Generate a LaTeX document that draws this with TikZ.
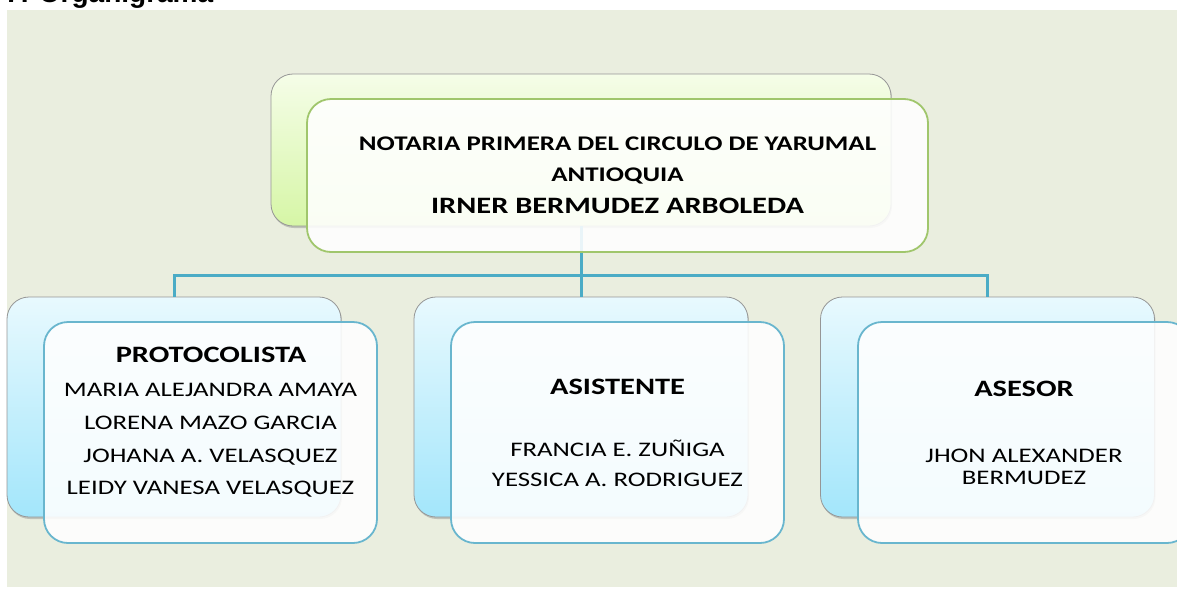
\documentclass[tikz,border=0pt]{standalone}
\usepackage{fontspec}
\usetikzlibrary{shadows}
\newfontfamily\calib[FakeStretch=1.295]{Carlito}
\newfontfamily\arialb{Liberation Sans}
\definecolor{bgc}{RGB}{234,238,223}
\definecolor{greentop}{RGB}{245,253,232}
\definecolor{greenbot}{RGB}{214,246,166}
\definecolor{bluetop}{RGB}{232,249,254}
\definecolor{bluebot}{RGB}{163,230,251}
\definecolor{greenline}{RGB}{160,198,108}
\definecolor{blueline}{RGB}{105,182,206}
\definecolor{conn}{RGB}{75,172,198}
\definecolor{backline}{RGB}{150,150,150}
\begin{document}
\begin{tikzpicture}[x=1pt,y=-1pt,
  backbox/.style={rectangle, rounded corners=22pt, draw=backline, line width=0.8pt,
    drop shadow={shadow xshift=1pt, shadow yshift=-2pt, opacity=0.4}, inner sep=0pt},
  topback/.style={backbox, top color=greentop, bottom color=greenbot, minimum width=620pt, minimum height=152pt},
  botback/.style={backbox, top color=bluetop, bottom color=bluebot, minimum width=334pt, minimum height=220pt},
  frontbox/.style={rectangle, rounded corners=24pt, fill=white, fill opacity=0.88, line width=1.8pt, inner sep=0pt},
  topfront/.style={frontbox, draw=greenline, minimum width=621pt, minimum height=153pt},
  botfront/.style={frontbox, draw=blueline, minimum width=333pt, minimum height=221pt},
  txt/.style={anchor=base, inner sep=0pt, font=\calib\fontsize{20.7}{24}\selectfont},
  bold/.style={anchor=base, inner sep=0pt, font=\calib\bfseries\fontsize{20.8}{24}\selectfont},
  head/.style={anchor=base, inner sep=0pt, font=\calib\bfseries\fontsize{23.5}{27}\selectfont},
  link/.style={draw=conn, line width=3pt}
]
\useasboundingbox (0,0) rectangle (1177,600);
\clip (0,0) rectangle (1177,600);
\fill[bgc] (7,10) rectangle (1185,587);
\node[anchor=base west, inner sep=0pt, font=\arialb\bfseries\fontsize{28}{30}\selectfont] (title) at (5,2.5) {7. Organigrama};

% back boxes
\node[topback] (tb) at (581,150) {};
\node[botback] (lb) at (174,407) {};
\node[botback] (mb) at (581,407) {};
\node[botback] (rb) at (987.5,407) {};

% connectors
\coordinate (bus) at (581,275);
\draw[link] (tb.south) -- (bus);
\draw[link] (bus) -| (lb.north);
\draw[link] (bus) -- (mb.north);
\draw[link] (bus) -| (rb.north);

% front boxes
\node[topfront] (tf) at (617.5,175.5) {};
\node[botfront] (lf) at (210.5,432.5) {};
\node[botfront] (mf) at (617.5,432.5) {};
\node[botfront] (rf) at (1024.5,432.5) {};

% texts
\node[bold] (t1) at (617.5,150) {NOTARIA PRIMERA DEL CIRCULO DE YARUMAL};
\node[bold] (t2) at (617.5,181.5) {ANTIOQUIA};
\node[head] (t3) at (617.5,213.5) {IRNER BERMUDEZ ARBOLEDA};

\node[head] (l0) at (211,362.4) {PROTOCOLISTA};
\node[txt] (l1) at (210.5,396.5) {MARIA ALEJANDRA AMAYA};
\node[txt] (l2) at (210.5,429.5) {LORENA MAZO GARCIA};
\node[txt] (l3) at (210.5,462.5) {JOHANA A. VELASQUEZ};
\node[txt] (l4) at (210.5,494.5) {LEIDY VANESA VELASQUEZ};

\node[head] (m0) at (617.5,394.4) {ASISTENTE};
\node[txt] (m1) at (617.5,456.5) {FRANCIA E. ZUÑIGA};
\node[txt] (m2) at (617.5,486.5) {YESSICA A. RODRIGUEZ};

\node[head] (r0) at (1024,396.4) {ASESOR};
\node[txt] (r1) at (1024,462.5) {JHON ALEXANDER};
\node[txt] (r2) at (1024,484.5) {BERMUDEZ};
\end{tikzpicture}
\end{document}
